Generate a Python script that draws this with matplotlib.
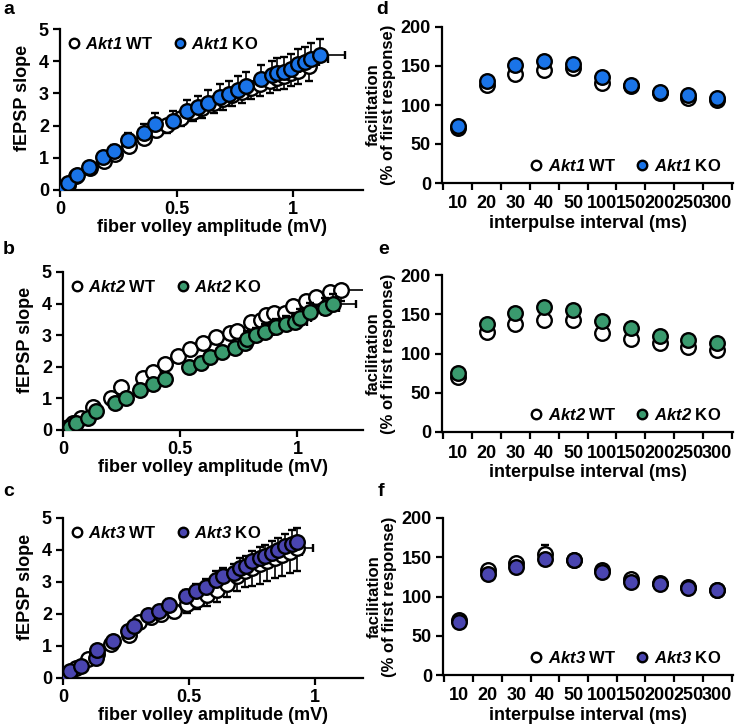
import matplotlib.pyplot as plt
import numpy as np

plt.rcParams['font.family'] = ['Liberation Sans', 'DejaVu Sans']
plt.rcParams['font.weight'] = 'bold'
plt.rcParams['mathtext.fontset'] = 'custom'
plt.rcParams['mathtext.bfit'] = 'Liberation Sans:italic:bold'
plt.rcParams['mathtext.rm'] = 'Liberation Sans:bold'

# ---- input/output curves (fiber volley amplitude vs fEPSP slope) ----
a_wt_x = [0.02, 0.035, 0.07, 0.13, 0.19, 0.235, 0.295, 0.36, 0.41, 0.46, 0.52, 0.57, 0.61,
          0.66, 0.70, 0.74, 0.78, 0.82, 0.86, 0.90, 0.93, 0.96, 0.99, 1.02, 1.07]
a_wt_y = [0.05, 0.15, 0.42, 0.68, 0.90, 1.13, 1.36, 1.62, 1.86, 2.02, 2.25, 2.42, 2.55,
          2.70, 2.82, 2.95, 3.05, 3.18, 3.30, 3.40, 3.48, 3.55, 3.62, 3.70, 3.85]
a_wt_err = [0.03, 0.05, 0.08, 0.10, 0.12, 0.15, 0.17, 0.20, 0.22, 0.24, 0.26, 0.28, 0.30,
            0.31, 0.33, 0.34, 0.35, 0.36, 0.37, 0.38, 0.38, 0.40, 0.40, 0.42, 0.45]
a_ko_x = [0.021, 0.036, 0.071, 0.126, 0.186, 0.231, 0.293, 0.36, 0.407, 0.486, 0.543, 0.593, 0.636,
          0.686, 0.726, 0.764, 0.797, 0.864, 0.911, 0.929, 0.96, 0.989, 1.021, 1.05, 1.079, 1.114]
a_ko_y = [0.10, 0.21, 0.47, 0.72, 1.01, 1.22, 1.55, 1.78, 2.04, 2.14, 2.45, 2.57, 2.71,
          2.90, 2.97, 3.11, 3.23, 3.44, 3.57, 3.64, 3.68, 3.75, 3.90, 3.96, 4.07, 4.19]
a_ko_err = [0.03, 0.05, 0.08, 0.10, 0.14, 0.17, 0.22, 0.26, 0.34, 0.30, 0.33, 0.36, 0.39,
            0.40, 0.40, 0.42, 0.42, 0.44, 0.45, 0.45, 0.46, 0.46, 0.47, 0.48, 0.48, 0.49]
a_ko_xerr = [0.01, 0.01, 0.01, 0.01, 0.01, 0.01, 0.01, 0.01, 0.01, 0.02, 0.02, 0.02, 0.02,
             0.02, 0.02, 0.03, 0.03, 0.03, 0.03, 0.04, 0.04, 0.04, 0.05, 0.06, 0.07, 0.107]

b_wt_x = [0.007, 0.021, 0.043, 0.078, 0.13, 0.206, 0.249, 0.341, 0.384, 0.434, 0.491, 0.541, 0.597,
          0.651, 0.711, 0.743, 0.804, 0.846, 0.868, 0.899, 0.946, 0.981, 1.038, 1.081, 1.138, 1.188]
b_wt_y = [0.02, 0.10, 0.21, 0.37, 0.74, 1.00, 1.37, 1.63, 1.84, 2.10, 2.34, 2.55, 2.74,
          2.93, 3.07, 3.14, 3.42, 3.47, 3.63, 3.71, 3.71, 3.93, 4.08, 4.21, 4.37, 4.42]
b_wt_err = [0.02, 0.03, 0.05, 0.06, 0.08, 0.10, 0.12, 0.14, 0.15, 0.17, 0.18, 0.19, 0.20,
            0.21, 0.22, 0.23, 0.24, 0.25, 0.26, 0.27, 0.27, 0.28, 0.29, 0.30, 0.32, 0.33]
b_wt_xerr = [0.01, 0.01, 0.01, 0.01, 0.01, 0.01, 0.02, 0.02, 0.02, 0.02, 0.02, 0.03, 0.03,
             0.03, 0.03, 0.03, 0.04, 0.04, 0.04, 0.04, 0.05, 0.05, 0.05, 0.06, 0.06, 0.12]
b_ko_x = [0.007, 0.028, 0.057, 0.107, 0.142, 0.22, 0.267, 0.327, 0.384, 0.434, 0.538, 0.59, 0.629,
          0.68, 0.733, 0.775, 0.785, 0.825, 0.86, 0.91, 0.95, 0.99, 1.01, 1.053, 1.117, 1.152]
b_ko_y = [0.00, 0.08, 0.21, 0.37, 0.60, 0.84, 1.00, 1.26, 1.45, 1.60, 2.00, 2.13, 2.32,
          2.47, 2.58, 2.74, 2.89, 3.00, 3.10, 3.26, 3.35, 3.42, 3.56, 3.74, 3.87, 3.98]
b_ko_err = [0.02, 0.03, 0.05, 0.06, 0.08, 0.10, 0.12, 0.13, 0.14, 0.15, 0.17, 0.18, 0.19,
            0.20, 0.21, 0.22, 0.23, 0.23, 0.24, 0.25, 0.26, 0.27, 0.28, 0.29, 0.30, 0.32]
b_ko_xerr = [0.01, 0.01, 0.01, 0.01, 0.01, 0.01, 0.01, 0.02, 0.02, 0.02, 0.02, 0.02, 0.03,
             0.03, 0.03, 0.03, 0.03, 0.04, 0.04, 0.04, 0.04, 0.05, 0.05, 0.05, 0.06, 0.10]

c_wt_x = [0.01, 0.025, 0.05, 0.10, 0.135, 0.19, 0.26, 0.30, 0.35, 0.39, 0.44, 0.49, 0.53,
          0.57, 0.61, 0.65, 0.69, 0.72, 0.75, 0.78, 0.81, 0.84, 0.87, 0.90, 0.93]
c_wt_y = [0.03, 0.12, 0.30, 0.60, 0.75, 1.05, 1.35, 1.75, 1.90, 2.00, 2.10, 2.30, 2.45,
          2.60, 2.75, 2.95, 3.20, 3.35, 3.45, 3.55, 3.65, 3.75, 3.85, 3.95, 4.05]
c_wt_err = [0.02, 0.04, 0.06, 0.08, 0.10, 0.12, 0.15, 0.18, 0.20, 0.22, 0.24, 0.26, 0.30,
            0.34, 0.38, 0.42, 0.48, 0.52, 0.56, 0.60, 0.62, 0.64, 0.66, 0.68, 0.70]
c_wt_xerr = [0.01, 0.01, 0.01, 0.01, 0.01, 0.01, 0.01, 0.02, 0.02, 0.02, 0.02, 0.02, 0.02,
             0.02, 0.03, 0.03, 0.03, 0.03, 0.03, 0.04, 0.04, 0.04, 0.05, 0.05, 0.06]
c_ko_x = [0.007, 0.02, 0.029, 0.072, 0.13, 0.134, 0.197, 0.257, 0.28, 0.336, 0.379, 0.421, 0.487,
          0.526, 0.566, 0.605, 0.634, 0.678, 0.704, 0.724, 0.75, 0.783, 0.803, 0.829, 0.853,
          0.882, 0.908, 0.928]
c_ko_y = [0.03, 0.10, 0.21, 0.36, 0.62, 0.89, 1.15, 1.46, 1.61, 1.98, 2.08, 2.29, 2.55,
          2.71, 2.84, 3.07, 3.18, 3.28, 3.44, 3.51, 3.65, 3.75, 3.82, 3.91, 3.99,
          4.11, 4.20, 4.24]
c_ko_err = [0.02, 0.03, 0.04, 0.06, 0.08, 0.09, 0.11, 0.13, 0.14, 0.16, 0.18, 0.19, 0.21,
            0.22, 0.24, 0.26, 0.27, 0.29, 0.30, 0.31, 0.33, 0.34, 0.35, 0.37, 0.38,
            0.40, 0.42, 0.45]

# ---- paired-pulse facilitation ----
ipi_labels = ['10', '20', '30', '40', '50', '100', '150', '200', '250', '300']
d_wt = [70, 126, 140, 145, 147, 128, 124, 116, 108.5, 106]
d_ko = [73, 131, 151, 157, 152, 136, 126, 117, 113, 108.5]
e_wt = [70, 128, 138, 143, 143, 126, 119, 113, 108.5, 104]
e_ko = [75, 137, 151, 159, 155, 141, 132, 122, 117, 113]
f_wt = [70, 134, 143, 154, 147, 134, 122, 117, 112, 108.5]
f_ko = [67, 129, 137, 148, 146, 131, 118, 116, 111, 108]
d_wt_err = [3, 4, 5, 5, 5, 4, 4, 3, 3, 3]
d_ko_err = [3, 5, 6, 6, 5, 5, 4, 4, 3, 3]
e_wt_err = [3, 4, 5, 5, 5, 4, 4, 3, 3, 3]
e_ko_err = [3, 5, 6, 6, 5, 5, 4, 4, 3, 3]
f_wt_err = [3, 4, 5, 12, 5, 4, 4, 3, 3, 3]
f_ko_err = [3, 5, 5, 6, 5, 5, 4, 4, 3, 3]

genes = ['Akt1', 'Akt2', 'Akt3']
ko_colors = ['#1a74e8', '#3a9a6e', '#4a45b0']

fig = plt.figure(figsize=(7.36, 7.27), dpi=100)
W, H = 736, 727


def px_axes(left, top, right, bottom):
    return fig.add_axes([left / W, 1 - bottom / H, (right - left) / W, (bottom - top) / H])


def style(ax):
    for s in ['top', 'right']:
        ax.spines[s].set_visible(False)
    for s in ['left', 'bottom']:
        ax.spines[s].set_linewidth(1.6)
    ax.tick_params(width=1.6, length=5, labelsize=13, pad=3)
    for lab in ax.get_xticklabels() + ax.get_yticklabels():
        lab.set_fontweight('bold')


mk = dict(marker='o', ms=10.5, mew=1.7, mec='black', ls='none')
eb = dict(ecolor='black', elinewidth=1.2, capsize=3, capthick=1.2)
leg = dict(ncol=2, frameon=False, markerscale=0.65, handletextpad=0.15, columnspacing=1.0,
           handlelength=1.1, prop={'size': 12, 'weight': 'bold'})

io_sets = [
    (a_wt_x, a_wt_y, a_wt_err, None, a_ko_x, a_ko_y, a_ko_err, a_ko_xerr, (60, 29, 363, 190), 1.3),
    (b_wt_x, b_wt_y, b_wt_err, b_wt_xerr, b_ko_x, b_ko_y, b_ko_err, b_ko_xerr, (63, 272, 363, 430), 1.28),
    (c_wt_x, c_wt_y, c_wt_err, c_wt_xerr, c_ko_x, c_ko_y, c_ko_err, None, (63, 518, 363, 678), 1.19),
]
ppf_sets = [
    (d_wt, d_wt_err, d_ko, d_ko_err, (442, 27, 733, 183)),
    (e_wt, e_wt_err, e_ko, e_ko_err, (442, 275, 733, 432)),
    (f_wt, f_wt_err, f_ko, f_ko_err, (443, 518, 733, 675)),
]

for i, (wx, wy, we, wxe, kx, ky, ke, kxe, box, xmax) in enumerate(io_sets):
    ax = px_axes(*box)
    col = ko_colors[i]
    wxerr = None if wxe is None else [np.zeros(len(wxe)), wxe]
    kxerr = None if kxe is None else [np.zeros(len(kxe)), kxe]
    ax.errorbar(wx, wy, yerr=[we, np.zeros(len(we))], xerr=wxerr, mfc='white', zorder=2,
                label=r'$\mathbfit{%s}$ WT' % genes[i], **mk, **eb)
    ax.errorbar(kx, ky, yerr=[np.zeros(len(ke)), ke], xerr=kxerr, mfc=col, zorder=3,
                label=r'$\mathbfit{%s}$ KO' % genes[i], **mk, **eb)
    ax.set_xlim(0, xmax)
    ax.set_ylim(0, 5)
    ax.set_xticks([0, 0.5, 1])
    ax.set_xticklabels(['0', '0.5', '1'])
    ax.set_yticks([0, 1, 2, 3, 4, 5])
    ax.set_xlabel('fiber volley amplitude (mV)', fontsize=13, fontweight='bold', labelpad=1)
    ax.set_ylabel('fEPSP slope', fontsize=13, fontweight='bold')
    ax.yaxis.set_label_coords(-0.095, 0.57)
    style(ax)
    handles, labels = ax.get_legend_handles_labels()
    handles = [h[0] for h in handles]
    ax.legend(handles, labels, loc='upper left', bbox_to_anchor=(-0.035, 1.05), **leg)

for i, (wv, we, kv, ke, box) in enumerate(ppf_sets):
    ax = px_axes(*box)
    col = ko_colors[i]
    pos = np.arange(len(ipi_labels))
    ax.errorbar(pos, wv, yerr=[np.zeros(len(we)), we], mfc='white', zorder=2,
                label=r'$\mathbfit{%s}$ WT' % genes[i], **mk, **eb)
    ax.errorbar(pos, kv, yerr=[np.zeros(len(ke)), ke], mfc=col, zorder=3,
                label=r'$\mathbfit{%s}$ KO' % genes[i], **mk, **eb)
    ax.set_xlim(-0.55, len(ipi_labels) - 0.45)
    ax.set_ylim(0, 200)
    ax.set_yticks([0, 50, 100, 150, 200])
    ax.set_xticks(np.arange(len(ipi_labels) + 1) - 0.5)
    ax.set_xticklabels([])
    ax.set_xticks(pos, minor=True)
    ax.set_xticklabels(ipi_labels, minor=True, fontsize=13, fontweight='bold')
    ax.tick_params(axis='x', which='minor', length=0, pad=9)
    ax.set_xlabel('interpulse interval (ms)', fontsize=13, fontweight='bold', labelpad=2)
    ax.set_ylabel('facilitation\n(% of first response)', fontsize=12, fontweight='bold',
                  labelpad=3, linespacing=1.05)
    style(ax)
    handles, labels = ax.get_legend_handles_labels()
    handles = [h[0] for h in handles]
    ax.legend(handles, labels, loc='lower right', bbox_to_anchor=(1.01, -0.04), **leg)

for letter, (x, y) in zip('abcdef', [(3, 9), (3, 250), (3, 492), (376, 9), (378, 250), (378, 492)]):
    fig.text(x / W, 1 - y / H, letter, fontsize=14, fontweight='bold', va='center', ha='left')

fig.savefig('out.png', dpi=100)
